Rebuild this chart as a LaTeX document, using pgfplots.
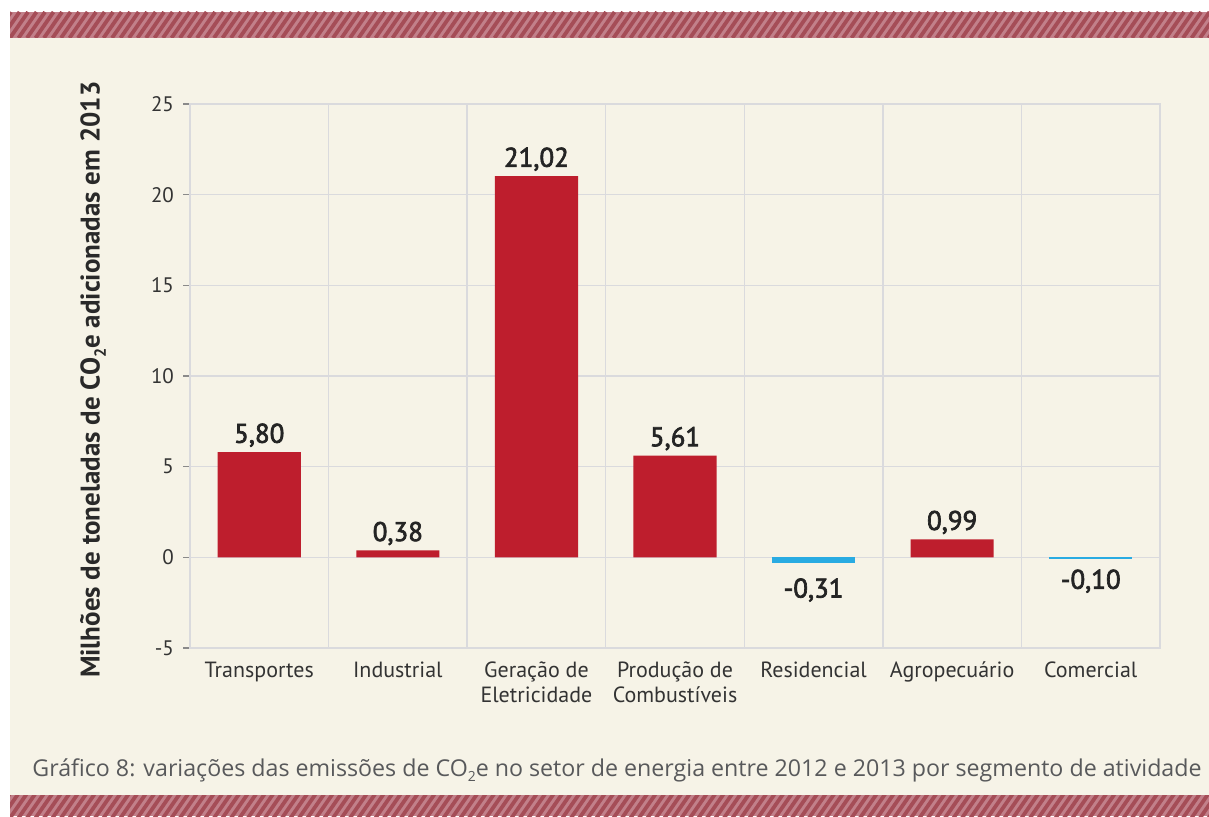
\documentclass[border=0pt]{standalone}
\usepackage{pgfplots}
\pgfplotsset{compat=1.18}
\usepackage{fontspec}
\setmainfont{PT Sans}
\newfontfamily\capfont{Open Sans}
\newfontfamily\valfont[FakeBold=2.5]{PT Sans}
\definecolor{cream}{HTML}{F6F3E7}
\definecolor{bandlight}{HTML}{C2808A}
\definecolor{banddark}{HTML}{A54D57}
\definecolor{barred}{HTML}{BE1E2D}
\definecolor{barblue}{HTML}{29ABE2}
\definecolor{gridc}{HTML}{DADADD}
\definecolor{tickc}{HTML}{8A8A8A}
\definecolor{txt}{HTML}{333333}
\definecolor{capc}{HTML}{58595B}

\pgfplotstableread{
x y lab
0 5.80 5,80
1 0.38 0,38
2 21.02 21,02
3 5.61 5,61
5 0.99 0,99
}\pos
\pgfplotstableread{
x y lab
4 -0.31 -0,31
}\negA
\pgfplotstableread{
x y lab
6 -0.10 -0,10
}\negB

\newcommand{\sub}[1]{\raisebox{-0.45ex}{\scalebox{0.6}{#1}}}

\begin{document}
\begin{tikzpicture}[x=1pt,y=1pt]
\useasboundingbox (0,0) rectangle (604.5,408);
\fill[white] (0,0) rectangle (604.5,408);
\fill[cream] (5,10.5) rectangle (604.5,389);
% top band
\fill[bandlight] (5,389) rectangle (604.5,402);
\begin{scope}
\clip (5,389) rectangle (604.5,402);
\foreach \x in {-12,-7.75,...,620} \draw[banddark, line width=1.9pt] (\x,389) -- (\x+9,402);
\end{scope}
% bottom band
\fill[bandlight] (5,0) rectangle (604.5,10.5);
\begin{scope}
\clip (5,0) rectangle (604.5,10.5);
\foreach \x in {-12,-7.75,...,620} \draw[banddark, line width=1.9pt] (\x,-1) -- (\x+9,12);
\end{scope}

\begin{axis}[
  at={(95pt,84pt)}, anchor=south west,
  width=485pt, height=272pt, scale only axis,
  xmin=-0.5, xmax=6.5, ymin=-5, ymax=25,
  ytick={-5,0,5,10,15,20,25},
  ytick pos=left,
  xtick={0,1,2,3,4,5,6},
  xticklabels={Transportes, Industrial, {Geração de\\Eletricidade}, {Produção de\\Combustíveis}, Residencial, Agropecuário, Comercial},
  minor xtick={0.5,1.5,2.5,3.5,4.5,5.5},
  xminorgrids, ymajorgrids,
  grid style={gridc, line width=0.65pt},
  axis line style={gridc, line width=0.65pt},
  tick align=outside,
  major tick length=3.5pt,
  minor tick length=0pt,
  xtick style={draw=none},
  ytick style={tickc, line width=0.6pt},
  /pgf/number format/assume math mode=true,
  yticklabel style={font=\fontsize{10.5}{12}\selectfont, text=txt, xshift=-1pt},
  xticklabel style={font=\fontsize{11}{12.5}\selectfont, text=txt, align=center},
  ylabel={Milhões de toneladas de CO\sub{2}e adicionadas em 2013},
  ylabel style={font=\bfseries\fontsize{13.5}{16}\selectfont, text=txt!80!black, at={(axis description cs:-0.1,0.493)}, anchor=center},
]
\addplot[ybar, fill=barred, draw=none, bar width=0.6, bar shift=0pt,
  nodes near coords, point meta=explicit symbolic,
  every node near coord/.append style={font=\fontsize{13.5}{15}\valfont, text=txt!70!black, anchor=south, inner sep=0pt, text depth=0pt, yshift=4.5pt}]
  table[x=x, y=y, meta=lab] {\pos};
\addplot[ybar, fill=barblue, draw=none, bar width=0.6, bar shift=0pt,
  nodes near coords, point meta=explicit symbolic,
  every node near coord/.append style={font=\fontsize{13.5}{15}\valfont, text=txt!70!black, anchor=north, inner sep=0pt, yshift=-7.5pt}]
  table[x=x, y=y, meta=lab] {\negA};
\addplot[ybar, fill=barblue, draw=none, bar width=0.6, bar shift=0pt,
  nodes near coords, point meta=explicit symbolic,
  every node near coord/.append style={font=\fontsize{13.5}{15}\valfont, text=txt!70!black, anchor=north, inner sep=0pt, yshift=-5pt}]
  table[x=x, y=y, meta=lab] {\negB};
\end{axis}

\node[anchor=base west, inner sep=0pt, font=\capfont\fontsize{11.6}{14}\selectfont, text=capc] at (16,20)
  {Gráfico 8: variações das emissões de CO\sub{2}e no setor de energia entre 2012 e 2013 por segmento de atividade};
\end{tikzpicture}
\end{document}
